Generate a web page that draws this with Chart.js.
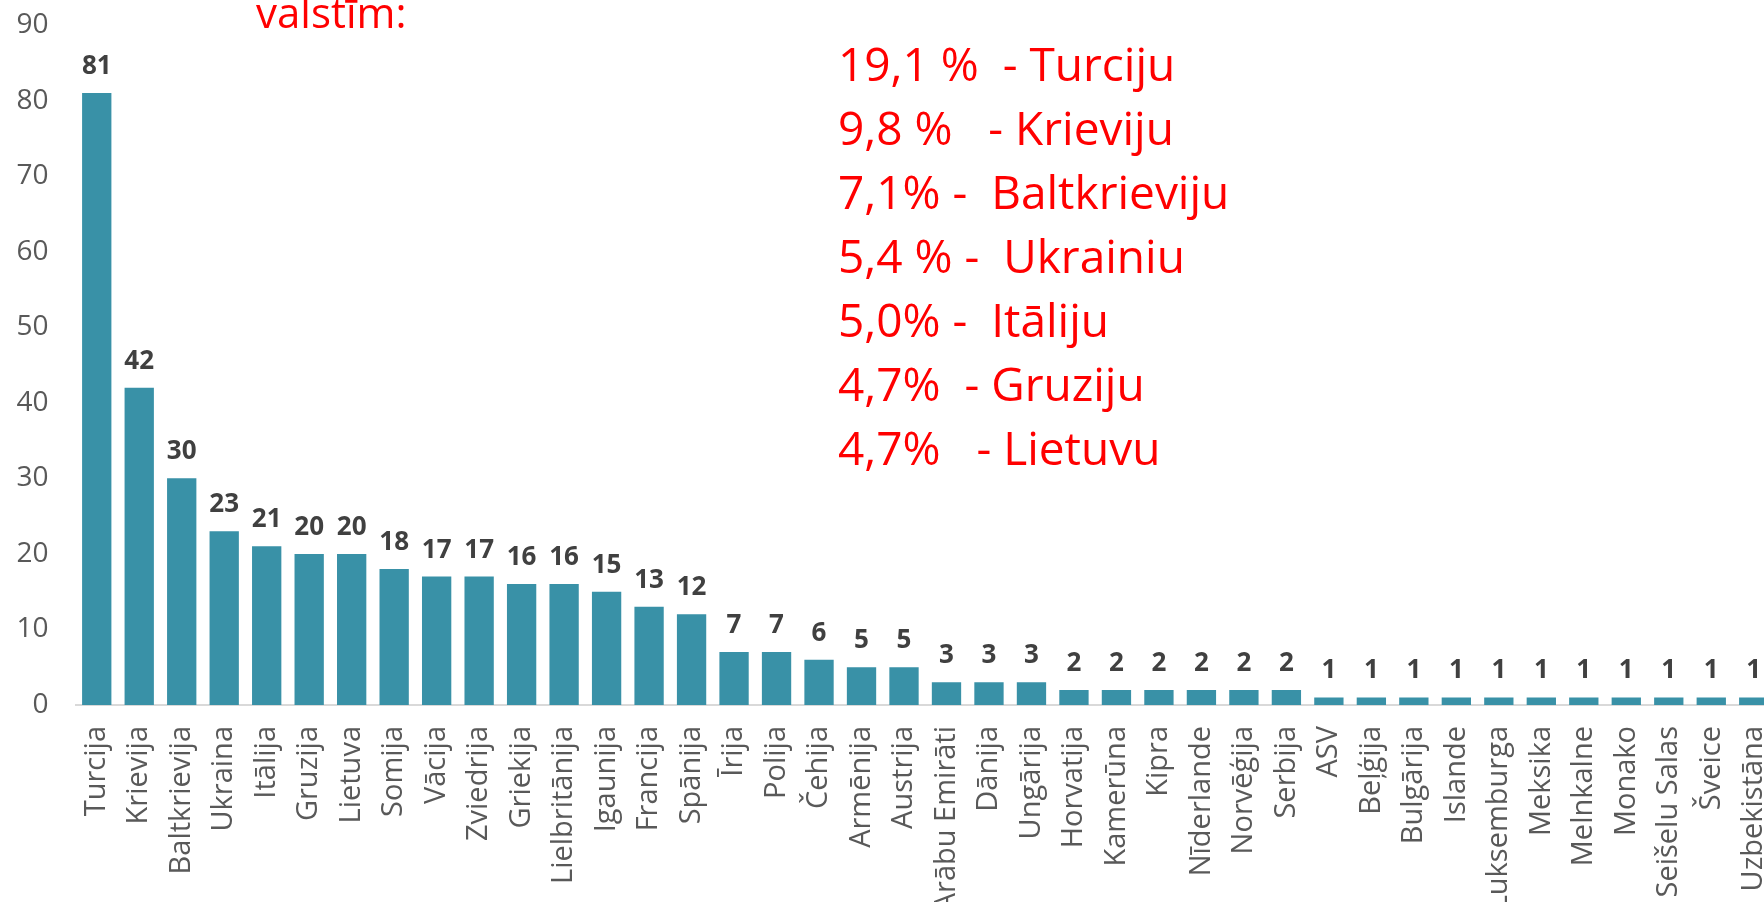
<!DOCTYPE html>
<html>
<head>
<meta charset="utf-8">
<script src="https://cdn.jsdelivr.net/npm/chart.js@4"></script>
<style>
  html, body { margin: 0; padding: 0; background: #fff; overflow: hidden; }
  #wrap { position: absolute; left: 0; top: 0; width: 1780px; height: 902px; }
  .note {
    position: absolute;
    font-family: "Open Sans", Lato, sans-serif;
    font-size: 46px;
    line-height: 64px;
    color: #ff0000;
    white-space: pre;
  }
</style>
</head>
<body>
<div id="wrap">
  <canvas id="chart" width="1780" height="902"></canvas>
</div>
<div class="note" style="left:256px; top:-20px; font-size:42px;">valstīm:</div>
<div class="note" style="left:838px; top:31px;">19,1 %  - Turciju
9,8 %   - Krieviju
7,1% -  Baltkrieviju
5,4 % -  Ukrainiu
5,0% -  Itāliju
4,7%  - Gruziju
4,7%   - Lietuvu</div>
<script>
const countries = ["Turcija","Krievija","Baltkrievija","Ukraina","Itālija","Gruzija","Lietuva","Somija","Vācija","Zviedrija",
  "Griekija","Lielbritānija","Igaunija","Francija","Spānija","Īrija","Polija","Čehija","Armēnija","Austrija",
  "Arābu Emirāti","Dānija","Ungārija","Horvatija","Kamerūna","Kipra","Nīderlande","Norvēģija","Serbija","ASV",
  "Beļģija","Bulgārija","Islande","Luksemburga","Meksika","Melnkalne","Monako","Seišelu Salas","Šveice","Uzbekistāna"];
const values = [81,42,30,23,21,20,20,18,17,17,
  16,16,15,13,12,7,7,6,5,5,
  3,3,3,2,2,2,2,2,2,1,
  1,1,1,1,1,1,1,1,1,1];
const yTicks = [0,10,20,30,40,50,60,70,80,90];

// value labels above each bar
const barLabels = {
  id: 'barLabels',
  afterDatasetsDraw(chart) {
    const ctx = chart.ctx;
    const meta = chart.getDatasetMeta(0);
    ctx.save();
    ctx.font = 'bold 26px "Open Sans"';
    ctx.fillStyle = '#404040';
    ctx.textAlign = 'center';
    ctx.textBaseline = 'alphabetic';
    meta.data.forEach(function (bar, i) {
      ctx.fillText(values[i], bar.x, bar.y - 19);
    });
    ctx.restore();
  }
};

new Chart(document.getElementById('chart'), {
  type: 'bar',
  data: {
    labels: countries,
    datasets: [{
      data: values,
      backgroundColor: '#3991a7',
      categoryPercentage: 1,
      barPercentage: 0.69
    }]
  },
  options: {
    responsive: false,
    animation: false,
    devicePixelRatio: 1,
    layout: { padding: { top: 25, right: 5, left: 0, bottom: 0 } },
    plugins: { legend: { display: false }, tooltip: { enabled: false } },
    scales: {
      x: {
        grid: { display: false, drawTicks: false },
        border: { display: true, color: '#d9d9d9', width: 2 },
        ticks: {
          autoSkip: false,
          maxRotation: 90,
          minRotation: 90,
          padding: 21,
          color: '#595959',
          font: { family: 'Open Sans', size: 29 }
        },
        afterFit: function (scale) {
          scale.height = 197;
          scale.paddingLeft = 0;
          scale.paddingRight = 0;
        }
      },
      y: {
        min: 0,
        max: 90,
        grid: { display: false, drawTicks: false },
        border: { display: false },
        afterBuildTicks: function (scale) { scale.ticks = yTicks.map(v => ({ value: v })); },
        ticks: {
          padding: 27,
          color: '#595959',
          font: { family: 'Open Sans', size: 28 }
        },
        afterFit: function (scale) {
          scale.width = 75.5;
          scale.paddingTop = 0;
          scale.paddingBottom = 0;
        }
      }
    }
  },
  plugins: [barLabels]
});
</script>
</body>
</html>
